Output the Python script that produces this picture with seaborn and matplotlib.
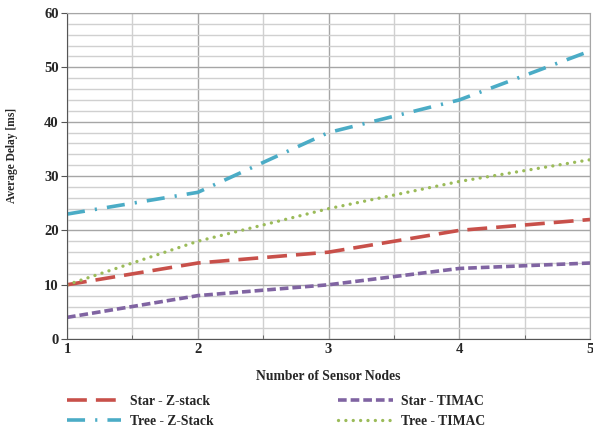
import numpy as np
import pandas as pd
import matplotlib
matplotlib.use("Agg")
import matplotlib.pyplot as plt
from matplotlib.ticker import MultipleLocator
import seaborn as sns

nodes = [1, 2, 3, 4, 5]
star_zstack = [10, 14, 16, 20, 22]
tree_zstack = [23, 27, 38, 44, 53]
star_timac = [4, 8, 10, 13, 14]
tree_timac = [10, 18, 24, 29, 33]

sns.set_style("white")
plt.rcParams['font.family'] = ['Liberation Serif', 'DejaVu Serif']
plt.rcParams['font.weight'] = 'bold'

fig = plt.figure(figsize=(5.93, 4.32), dpi=100)
ax = fig.add_axes([0.113, 0.215, 0.882, 0.755])

series = [
    ("Star - Z-stack", star_zstack, "#C8504A", (0, (5.5, 2.5)), "butt", 2.6),
    ("Tree - Z-Stack", tree_zstack, "#4BACC6", (0, (5, 2.8, 0.6, 2.8)), "butt", 2.6),
    ("Star - TIMAC", star_timac, "#8064A2", (0, (2.4, 1.1)), "butt", 2.6),
    ("Tree - TIMAC", tree_timac, "#9BBB59", (0, (0.01, 2.2)), "round", 2.4),
]
for name, vals, col, ls, cap, lw in series:
    sns.lineplot(x=nodes, y=vals, color=col, label=name, linestyle=ls,
                 linewidth=lw, ax=ax, dash_capstyle=cap, solid_capstyle=cap)

ax.set_xlim(1, 5)
ax.set_ylim(0, 60)
ax.xaxis.set_major_locator(MultipleLocator(1))
ax.xaxis.set_minor_locator(MultipleLocator(0.5))
ax.yaxis.set_major_locator(MultipleLocator(10))
ax.yaxis.set_minor_locator(MultipleLocator(2))
ax.grid(which='major', color='#A6A6A6', linewidth=1.0)
ax.grid(which='minor', color='#D0D0D0', linewidth=1.0)
ax.set_axisbelow(True)
for s in ax.spines.values():
    s.set_color('#A6A6A6')
ax.spines['left'].set_color('#555555')
ax.spines['bottom'].set_color('#555555')
ax.tick_params(axis='both', which='major', labelsize=10.5, length=4, color='#555555', direction='out',
               left=True, bottom=True, pad=2)
ax.tick_params(axis='x', which='major', length=0, pad=3)
ax.tick_params(axis='x', which='minor', length=3, color='#555555', bottom=True, direction='in')
ax.tick_params(axis='y', which='minor', length=0)
for lab in ax.get_xticklabels() + ax.get_yticklabels():
    lab.set_fontweight('bold')

ax.set_xlabel("Number of Sensor Nodes", fontsize=9.8, fontweight='bold')
ax.xaxis.set_label_coords(0.5, -0.095)
ax.set_ylabel("Average Delay [ms]", fontsize=8.3, fontweight='bold')
ax.yaxis.set_label_coords(-0.094, 0.564)

handles, labels = ax.get_legend_handles_labels()
ax.legend(handles, labels, ncol=2,
          loc='upper left', bbox_to_anchor=(0.0, -0.172), frameon=False,
          prop={'size': 9.8, 'weight': 'bold'}, handlelength=4.0, columnspacing=9.2,
          labelspacing=0.5, handletextpad=0.6, borderpad=0, borderaxespad=0)

fig.savefig("out.png", dpi=100)
